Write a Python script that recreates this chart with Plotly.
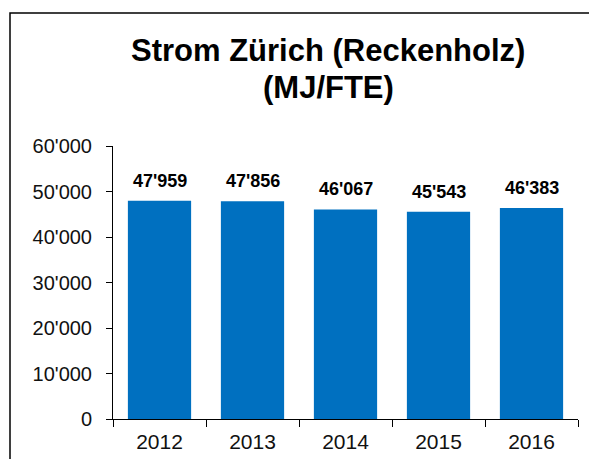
import plotly.graph_objects as go

years = ["2012", "2013", "2014", "2015", "2016"]
values = [47959, 47856, 46067, 45543, 46383]
y_ticks = [0, 10000, 20000, 30000, 40000, 50000, 60000]
y_tick_labels = ["0", "10'000", "20'000", "30'000", "40'000", "50'000", "60'000"]
title_lines = ["Strom Zürich (Reckenholz)", "(MJ/FTE)"]

def fmt(v):
    return f"{v:,}".replace(",", "'")

W, H = 589, 459
L, R, T, B = 113, 11, 146, 40
pw, ph = W - L - R, H - T - B

def px_x(x):
    return (x - L) / pw

def px_y(y):
    return (H - B - y) / ph

fig = go.Figure()
fig.add_trace(go.Bar(
    x=years, y=values, marker=dict(color="#0070C0", line=dict(width=0)),
    width=0.68, hoverinfo="skip",
))

for i, v in enumerate(values):
    fig.add_annotation(x=i, y=v, text="<b>" + fmt(v) + "</b>", showarrow=False,
                       xref="x", yref="y", yanchor="bottom", yshift=8,
                       font=dict(family="Liberation Sans", size=18, color="#000000"))

for line, yc in zip(title_lines, [51, 87]):
    fig.add_annotation(x=px_x(328), y=px_y(yc), xref="paper", yref="paper",
                       text="<b>" + line + "</b>", showarrow=False,
                       xanchor="center", yanchor="middle",
                       font=dict(family="Liberation Sans", size=31, color="#000000"))

fig.add_shape(type="rect", xref="paper", yref="paper",
              x0=px_x(10), x1=px_x(W + 5), y0=px_y(H + 5), y1=px_y(13),
              line=dict(color="#000000", width=1.5), fillcolor="rgba(0,0,0,0)", layer="below")

fig.update_layout(
    width=W, height=H,
    margin=dict(l=L, r=R, t=T, b=B, pad=0, autoexpand=False),
    paper_bgcolor="white", plot_bgcolor="white",
    showlegend=False,
    font=dict(family="Liberation Sans", size=20, color="#111111"),
)
fig.update_xaxes(
    type="category", automargin=False, tickangle=0, range=[-0.5, 4.5],
    showline=True, linecolor="#000000", linewidth=1,
    ticks="outside", ticklen=7, tickcolor="#000000", tickson="boundaries",
    showgrid=False, tickfont=dict(size=21), fixedrange=True, ticklabelstandoff=4,
)
fig.update_yaxes(
    automargin=False,
    range=[0, 60000], tickvals=y_ticks, ticktext=y_tick_labels,
    showline=True, linecolor="#000000", linewidth=1,
    ticks="outside", ticklen=6, tickcolor="#000000",
    showgrid=False, zeroline=False, tickfont=dict(size=20), fixedrange=True,
    ticklabelstandoff=10,
)

fig.write_html("out.html", config={"displayModeBar": False},
               post_script="document.body.style.margin='0';")
